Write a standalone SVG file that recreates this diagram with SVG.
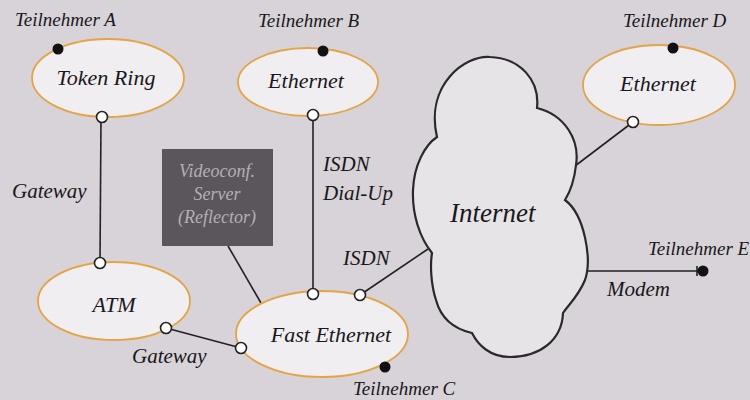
<svg xmlns="http://www.w3.org/2000/svg" width="750" height="400" viewBox="0 0 750 400">
<style>
.bg{fill:#d7d3d8}
.net{fill:#f0eef1;stroke:#e3a447;stroke-width:1.8}
.t{font-family:"Liberation Serif",serif;font-style:italic;fill:#1a171a}
.lbl{font-size:19px}
.nm{font-size:22px;text-anchor:middle}
.cl{font-size:21px}
.ln{stroke:#222;stroke-width:1.6;fill:none}
.port{fill:#fff;stroke:#222;stroke-width:1.6}
.dot{fill:#111}
.srv{fill:#5a565b}
.srvt{font-family:"Liberation Serif",serif;font-style:italic;font-size:18px;fill:#b5afb5;text-anchor:middle}
</style>
<rect class="bg" x="0" y="0" width="750" height="400"/>
<g id="connectors">
<line class="ln" x1="101" y1="117" x2="100" y2="263"/>
<line class="ln" x1="166" y1="328" x2="241" y2="348"/>
<line class="ln" x1="313" y1="115" x2="313" y2="294"/>
<line class="ln" x1="228" y1="246" x2="261" y2="303"/>
<line class="ln" x1="360" y1="295" x2="428" y2="249"/>
<line class="ln" x1="633" y1="122" x2="575" y2="166"/>
<line class="ln" x1="587" y1="271" x2="700" y2="271"/>
<line class="ln" x1="697" y1="266" x2="697" y2="276"/>
</g>
<g id="internet">
<path d="M437,137 C425,85 465,55 490,57 C520,58 540,80 537,108 C565,115 580,140 576,165 C574,183 570,192 565,200 C585,215 592,260 585,280 C578,297 568,305 563,313 C562,340 540,357 510,357 C490,357 478,345 472,333 C450,328 440,315 436,300 C431,285 430,265 432,253 C420,238 412,215 413,190 C414,165 425,145 437,137 Z" fill="#e7e4e8" stroke="#2a282b" stroke-width="2.2"/>
<text class="t" x="450" y="222" font-size="27">Internet</text>
</g>
<g id="token-ring">
<ellipse class="net" cx="108" cy="78" rx="76" ry="39"/>
<text class="t nm" x="106" y="85">Token Ring</text>
<circle class="dot" cx="58" cy="49" r="5.5"/>
<circle class="port" cx="102" cy="117" r="5.5"/>
<text class="t lbl" x="15" y="26">Teilnehmer A</text>
</g>
<g id="ethernet-b">
<ellipse class="net" cx="308" cy="82" rx="70" ry="34"/>
<text class="t nm" x="306" y="88">Ethernet</text>
<circle class="dot" cx="323" cy="51" r="5.5"/>
<circle class="port" cx="313" cy="115" r="5.5"/>
<text class="t lbl" x="258" y="27">Teilnehmer B</text>
</g>
<g id="ethernet-d">
<ellipse class="net" cx="659" cy="85" rx="76" ry="40"/>
<text class="t nm" x="658" y="91">Ethernet</text>
<circle class="dot" cx="673" cy="48" r="5.5"/>
<circle class="port" cx="633" cy="122" r="5.5"/>
<text class="t lbl" x="623" y="27">Teilnehmer D</text>
</g>
<g id="atm">
<ellipse class="net" cx="114" cy="301" rx="76" ry="39"/>
<text class="t nm" x="114" y="312">ATM</text>
<circle class="port" cx="100" cy="263" r="5.5"/>
<circle class="port" cx="166" cy="328" r="5.5"/>
</g>
<g id="fast-ethernet">
<ellipse class="net" cx="322" cy="334" rx="86" ry="43"/>
<text class="t nm" x="331" y="342">Fast Ethernet</text>
<circle class="port" cx="313" cy="294" r="5.5"/>
<circle class="port" cx="360" cy="295" r="5.5"/>
<circle class="port" cx="241" cy="348" r="5.5"/>
<circle class="dot" cx="385" cy="367" r="5.5"/>
<text class="t lbl" x="353" y="395">Teilnehmer C</text>
</g>
<g id="server">
<rect class="srv" x="162" y="149" width="111" height="97"/>
<text class="srvt" x="217" y="177">Videoconf.</text>
<text class="srvt" x="217" y="200">Server</text>
<text class="srvt" x="217" y="223">(Reflector)</text>
</g>
<g id="teilnehmer-e">
<circle class="dot" cx="703" cy="271" r="5.5"/>
<text class="t lbl" x="648" y="255">Teilnehmer E</text>
</g>
<g id="labels">
<text class="t cl" x="12" y="198">Gateway</text>
<text class="t cl" x="132" y="363">Gateway</text>
<text class="t cl" x="323" y="171">ISDN</text>
<text class="t cl" x="323" y="200">Dial-Up</text>
<text class="t cl" x="343" y="265">ISDN</text>
<text class="t cl" x="607" y="296">Modem</text>
</g>
</svg>
